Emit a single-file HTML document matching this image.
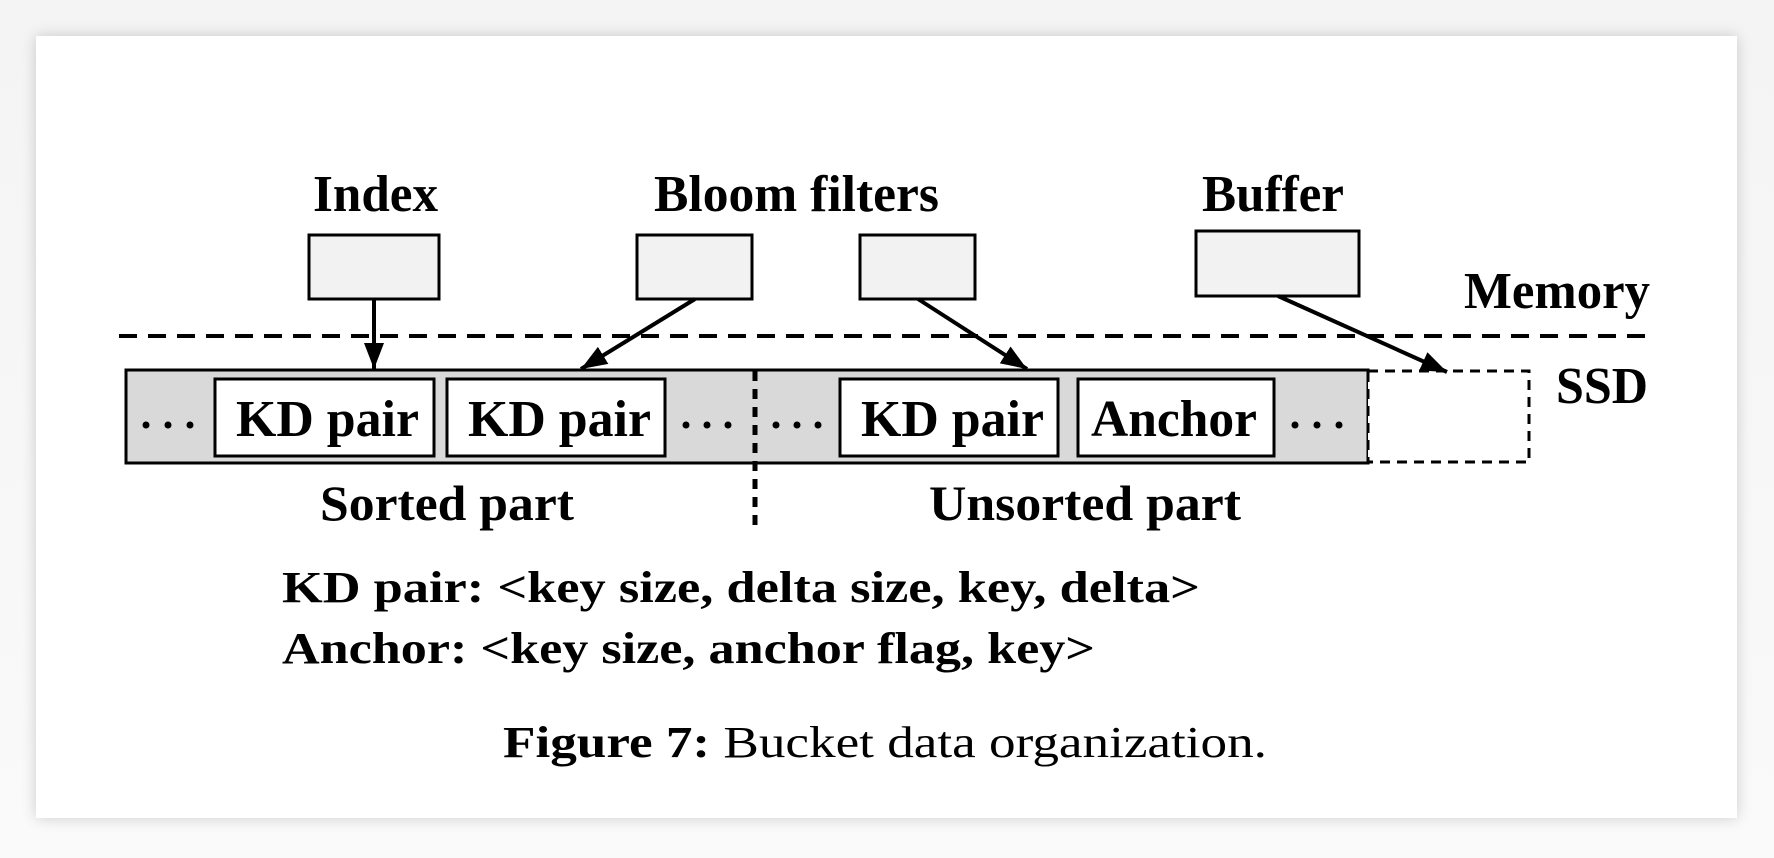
<!DOCTYPE html>
<html><head><style>
html,body{margin:0;padding:0;background:#fff;}
body{width:1774px;height:858px;overflow:hidden;position:relative;background:linear-gradient(#f4f4f4,#fafafa);}
#panel{position:absolute;left:36px;top:36px;width:1701px;height:782px;background:#fff;box-shadow:0 0 14px rgba(0,0,0,0.18);}
svg{position:absolute;left:0;top:0;}
text{font-family:"Liberation Serif",serif;font-weight:bold;fill:#000;}
</style></head><body>
<div id="panel"></div>
<svg width="1774" height="858" viewBox="0 0 1774 858">
<defs>
<marker id="a" viewBox="0 0 26 20" refX="26" refY="10" markerWidth="26" markerHeight="20" orient="auto" markerUnits="userSpaceOnUse"><path d="M0,0 L26,10 L0,20 z" fill="#000"/></marker></defs>
<text x="313" y="211" font-size="52" textLength="125" lengthAdjust="spacingAndGlyphs">Index</text>
<text x="654" y="211" font-size="52" textLength="285" lengthAdjust="spacingAndGlyphs">Bloom filters</text>
<text x="1202" y="211" font-size="52" textLength="142" lengthAdjust="spacingAndGlyphs">Buffer</text>
<text x="1464" y="308" font-size="52" textLength="186" lengthAdjust="spacingAndGlyphs">Memory</text>
<text x="1556" y="403" font-size="52" textLength="92" lengthAdjust="spacingAndGlyphs">SSD</text>
<g fill="#f2f2f2" stroke="#000" stroke-width="3">
<rect x="309" y="235" width="130" height="64"/>
<rect x="637" y="235" width="115" height="64"/>
<rect x="860" y="235" width="115" height="64"/>
<rect x="1196" y="231" width="163" height="65"/>
</g>
<line x1="119" y1="336" x2="1653" y2="336" stroke="#000" stroke-width="4" stroke-dasharray="18,11"/>
<rect x="126" y="370" width="1242" height="93" fill="#d9d9d9" stroke="#000" stroke-width="3"/>
<rect x="1368" y="371" width="161" height="91" fill="#fff" stroke="#000" stroke-width="3" stroke-dasharray="10,7"/>
<g fill="#fff" stroke="#000" stroke-width="3">
<rect x="215" y="379" width="219" height="77"/>
<rect x="447" y="379" width="218" height="77"/>
<rect x="840" y="379" width="218" height="77"/>
<rect x="1078" y="379" width="196" height="77"/>
</g>
<line x1="755" y1="371" x2="755" y2="532" stroke="#000" stroke-width="5" stroke-dasharray="10,8"/>
<text x="236" y="436" font-size="52" textLength="183" lengthAdjust="spacingAndGlyphs">KD pair</text>
<text x="468" y="436" font-size="52" textLength="183" lengthAdjust="spacingAndGlyphs">KD pair</text>
<text x="861" y="436" font-size="52" textLength="183" lengthAdjust="spacingAndGlyphs">KD pair</text>
<text x="1091" y="436" font-size="52" textLength="166" lengthAdjust="spacingAndGlyphs">Anchor</text>
<g fill="#000">
<circle cx="146" cy="425" r="3.5"/><circle cx="168" cy="425" r="3.5"/><circle cx="190" cy="425" r="3.5"/>
<circle cx="686" cy="425" r="3.5"/><circle cx="707" cy="425" r="3.5"/><circle cx="728" cy="425" r="3.5"/>
<circle cx="776" cy="425" r="3.5"/><circle cx="797" cy="425" r="3.5"/><circle cx="818" cy="425" r="3.5"/>
<circle cx="1295" cy="425" r="3.5"/><circle cx="1317" cy="425" r="3.5"/><circle cx="1339" cy="425" r="3.5"/>
</g>
<g stroke="#000" stroke-width="4">
<line x1="374" y1="299" x2="374" y2="369" marker-end="url(#a)"/>
<line x1="695" y1="299" x2="581" y2="369" marker-end="url(#a)"/>
<line x1="918" y1="299" x2="1027" y2="369" marker-end="url(#a)"/>
<line x1="1278" y1="296" x2="1447" y2="372" marker-end="url(#a)"/>
</g>
<text x="320" y="520" font-size="50" textLength="254" lengthAdjust="spacingAndGlyphs">Sorted part</text>
<text x="929" y="520" font-size="50" textLength="312" lengthAdjust="spacingAndGlyphs">Unsorted part</text>
<text x="282" y="602" font-size="44" textLength="918" lengthAdjust="spacingAndGlyphs">KD pair: &lt;key size, delta size, key, delta&gt;</text>
<text x="282" y="663" font-size="44" textLength="813" lengthAdjust="spacingAndGlyphs">Anchor: &lt;key size, anchor flag, key&gt;</text>
<text x="503" y="757" font-size="44" textLength="764" lengthAdjust="spacingAndGlyphs">Figure 7:<tspan font-weight="normal"> Bucket data organization.</tspan></text>
</svg>
</body></html>
